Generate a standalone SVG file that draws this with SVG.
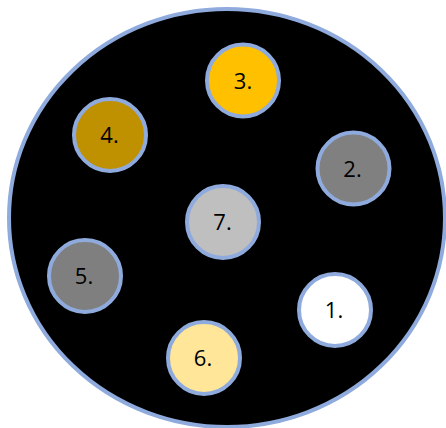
<svg xmlns="http://www.w3.org/2000/svg" width="446" height="428" viewBox="0 0 446 428">
<style>
.n{stroke:#8FAADC;stroke-width:4}
.t{font-family:"Open Sans","Liberation Sans",sans-serif;font-size:22px;fill:#000;text-anchor:middle}
</style>
<rect width="446" height="428" fill="#fff"/>
<g id="plate"><ellipse cx="227" cy="218" rx="218" ry="209" fill="#000" stroke="#8FAADC" stroke-width="4"/></g>
<g id="connectors"></g>
<g id="n3"><circle class="n" cx="243" cy="80.5" r="36" fill="#FFC000"/><text class="t" x="243" y="88.5">3.</text></g>
<g id="n4"><circle class="n" cx="110" cy="135" r="36" fill="#BF9000"/><text class="t" x="109.5" y="143">4.</text></g>
<g id="n2"><circle class="n" cx="353.5" cy="168.5" r="36" fill="#808080"/><text class="t" x="352.5" y="176.5">2.</text></g>
<g id="n7"><circle class="n" cx="223" cy="222" r="36" fill="#BFBFBF"/><text class="t" x="222.5" y="230">7.</text></g>
<g id="n5"><circle class="n" cx="85" cy="276" r="36" fill="#7F7F7F"/><text class="t" x="84" y="284">5.</text></g>
<g id="n1"><circle class="n" cx="335" cy="310" r="36" fill="#FFFFFF"/><text class="t" x="334" y="318">1.</text></g>
<g id="n6"><circle class="n" cx="204" cy="358" r="36" fill="#FFE699"/><text class="t" x="203" y="366">6.</text></g>
</svg>
